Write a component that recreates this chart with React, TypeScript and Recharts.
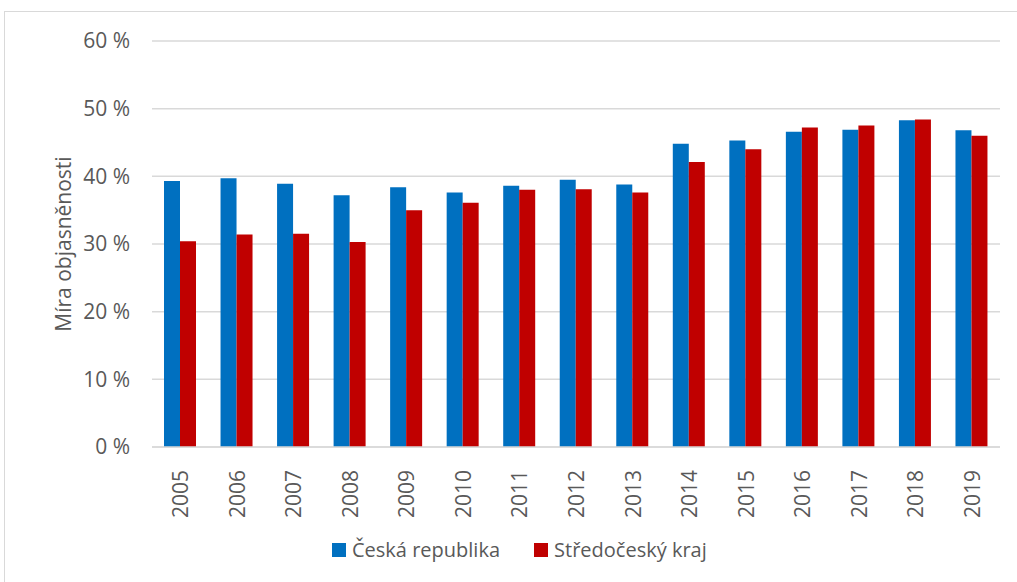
import React from 'react';
import { BarChart, Bar, XAxis, YAxis, CartesianGrid, Legend } from 'recharts';

const years = ['2005','2006','2007','2008','2009','2010','2011','2012','2013','2014','2015','2016','2017','2018','2019'];
const ceskaRepublika = [39.3, 39.7, 38.9, 37.2, 38.4, 37.6, 38.6, 39.5, 38.8, 44.8, 45.3, 46.6, 46.9, 48.3, 46.8];
const stredocesky = [30.4, 31.4, 31.5, 30.3, 35.0, 36.1, 38.0, 38.1, 37.6, 42.1, 44.0, 47.2, 47.5, 48.4, 46.0];
const yTicks = [0, 10, 20, 30, 40, 50, 60];
const seriesNames = ['Česká republika', 'Středočeský kraj'];
const seriesColors = ['#0070C0', '#C00000'];

const data = years.map((y, i) => ({ year: y, cr: ceskaRepublika[i], sk: stredocesky[i] }));

const FONT = '"Open Sans", sans-serif';
const TEXT = '#595959';

const XTick = (props: any) => {
  const { x, y, payload } = props;
  return (
    <text
      x={x}
      y={y + 15}
      transform={`rotate(-90, ${x}, ${y + 15})`}
      textAnchor="end"
      dominantBaseline="central"
      fontFamily={FONT}
      fontSize={21}
      fill={TEXT}
    >
      {payload.value}
    </text>
  );
};

const LegendContent = () => (
  <div style={{ display: 'flex', alignItems: 'center', fontFamily: FONT, fontSize: 20, color: TEXT, whiteSpace: 'nowrap' }}>
    {seriesNames.map((n, i) => (
      <div key={n} style={{ display: 'flex', alignItems: 'center', marginRight: i === 0 ? 34 : 0 }}>
        <span style={{ display: 'inline-block', width: 14, height: 14, background: seriesColors[i], marginRight: 6 }} />
        <span>{n}</span>
      </div>
    ))}
  </div>
);

export default function App() {
  return (
    <div>
      <div style={{ position: 'absolute', left: 4, top: 11, width: 1030, height: 590, border: '1px solid #d9d9d9', boxSizing: 'border-box' }} />
      <div style={{ position: 'absolute', left: 0, top: 0 }}>
        <BarChart
          width={1017}
          height={582}
          data={data}
          margin={{ top: 41, right: 17, left: 52, bottom: 17 }}
          barGap={0}
          barSize={16}
        >
          <CartesianGrid vertical={false} stroke="#d9d9d9" strokeWidth={1.5} />
          <XAxis
            dataKey="year"
            height={90}
            interval={0}
            tickLine={false}
            axisLine={{ stroke: '#d9d9d9', strokeWidth: 1.5 }}
            tick={<XTick />}
          />
          <YAxis
            width={100}
            domain={[0, 60]}
            ticks={yTicks}
            tickFormatter={(v: number) => `${v} %`}
            axisLine={false}
            tickLine={false}
            tickMargin={16}
            tick={{ fontFamily: FONT, fontSize: 21, fill: TEXT }}
            label={{
              value: 'Míra objasněnosti',
              angle: -90,
              position: 'insideLeft',
              offset: 12,
              style: { fontFamily: FONT, fontSize: 21, fill: TEXT, textAnchor: 'middle' },
            }}
          />
          <Legend
            verticalAlign="bottom"
            content={<LegendContent />}
            wrapperStyle={{ position: 'absolute', left: 332, top: 536, width: 'auto', height: 28 }}
          />
          <Bar dataKey="cr" name={seriesNames[0]} fill={seriesColors[0]} isAnimationActive={false} />
          <Bar dataKey="sk" name={seriesNames[1]} fill={seriesColors[1]} isAnimationActive={false} />
        </BarChart>
      </div>
    </div>
  );
}
